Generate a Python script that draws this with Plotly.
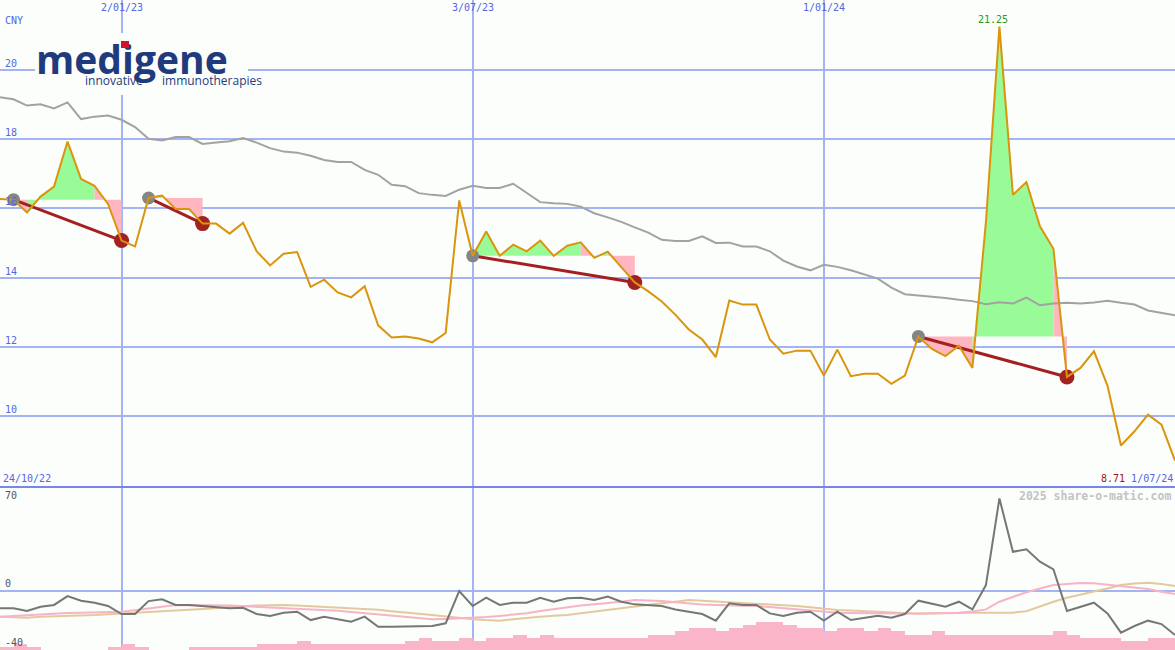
import pandas as pd
import plotly.graph_objects as go

# ---------------- data ----------------
start_date = "2022-10-31"
n_weeks = 88
dates = list(pd.date_range(start_date, periods=n_weeks, freq="7D"))

price = [
    16.27, 16.25, 15.88, 16.34, 16.63, 17.93, 16.85, 16.65, 16.13, 15.07,
    14.90, 16.30, 16.37, 15.98, 15.98, 15.56, 15.56, 15.27, 15.58, 14.76,
    14.35, 14.69, 14.74, 13.73, 13.94, 13.57, 13.43, 13.75, 12.62, 12.27,
    12.30, 12.24, 12.13, 12.40, 16.23, 14.63, 15.33, 14.63, 14.95, 14.76,
    15.07, 14.63, 14.92, 15.02, 14.57, 14.75, 14.30, 13.86, 13.60, 13.31,
    12.93, 12.50, 12.21, 11.70, 13.34, 13.22, 13.22, 12.21, 11.80, 11.89,
    11.89, 11.17, 11.92, 11.15, 11.22, 11.22, 10.93, 11.17, 12.30, 11.94,
    11.73, 12.03, 11.39, 15.60, 21.25, 16.39, 16.76, 15.48, 14.83, 11.13,
    11.39, 11.87, 10.88, 9.15, 9.56, 10.04, 9.75, 8.71]

moving_avg = [
    19.21, 19.15, 18.97, 19.01, 18.89, 19.06, 18.58, 18.65, 18.68, 18.56,
    18.35, 18.01, 17.96, 18.06, 18.06, 17.86, 17.90, 17.94, 18.03, 17.90,
    17.74, 17.64, 17.61, 17.52, 17.40, 17.34, 17.34, 17.11, 16.97, 16.68,
    16.64, 16.44, 16.39, 16.36, 16.54, 16.65, 16.59, 16.59, 16.71, 16.45,
    16.18, 16.15, 16.13, 16.05, 15.86, 15.74, 15.61, 15.45, 15.30, 15.09,
    15.06, 15.06, 15.19, 15.00, 15.01, 14.90, 14.90, 14.76, 14.49, 14.32,
    14.21, 14.37, 14.31, 14.21, 14.10, 13.97, 13.71, 13.52, 13.48, 13.45,
    13.41, 13.36, 13.32, 13.23, 13.29, 13.25, 13.42, 13.20, 13.25, 13.27,
    13.25, 13.28, 13.33, 13.27, 13.22, 13.05, 12.98, 12.91]

# trades: (entry week index, exit week index)
trade_start = [1, 11, 35, 68]
trade_end = [9, 15, 47, 79]

volume = [
    1, 2, 1, 0, 0, 0, 0, 0, 1, 2,
    1, 0, 0, 0, 1, 1, 1, 1, 1, 2,
    2, 2, 3, 2, 2, 2, 2, 2, 2, 2,
    3, 4, 3, 3, 4, 3, 4, 4, 5, 4,
    5, 4, 4, 4, 4, 4, 4, 4, 5, 5,
    6, 7, 7, 6, 7, 8, 9, 9, 8, 7,
    7, 6, 7, 7, 6, 7, 6, 5, 5, 6,
    5, 5, 5, 5, 5, 5, 5, 5, 6, 5,
    4, 4, 4, 3, 3, 4, 4, 4]

momentum = [
    -11.9, -11.9, -13.7, -10.8, -9.6, -3.6, -6.7, -8.1, -10.3, -15.7,
    -15.7, -7.0, -5.8, -9.6, -9.6, -10.3, -10.8, -11.9, -11.5, -15.7,
    -17.1, -14.8, -14.2, -19.8, -17.5, -19.3, -20.9, -17.5, -24.3, -24.3,
    -24.3, -24.0, -23.8, -22.0, -0.2, -10.3, -4.7, -9.6, -8.1, -8.1,
    -4.7, -7.4, -5.1, -4.7, -6.3, -4.0, -7.4, -9.2, -9.6, -10.3,
    -12.6, -14.2, -15.7, -20.2, -8.5, -9.6, -9.6, -15.3, -17.1, -14.8,
    -14.2, -20.2, -14.2, -19.8, -18.6, -16.9, -18.2, -15.7, -6.7, -9.0,
    -10.8, -7.4, -12.6, 3.8, 62.3, 26.3, 27.9, 19.6, 14.4, -13.7,
    -10.8, -8.1, -15.3, -28.3, -23.8, -20.2, -22.5, -29.9]

osc_pink = [
    -17.5, -17.0, -16.3, -15.7, -15.4, -15.1, -14.8, -14.6, -14.4, -14.2,
    -13.2, -11.8, -10.8, -9.6, -9.6, -9.6, -9.6, -10.0, -10.4, -10.8,
    -11.2, -11.6, -11.9, -12.4, -13.0, -13.5, -14.4, -15.3, -16.0, -16.7,
    -17.8, -18.6, -19.3, -19.0, -18.7, -18.3, -17.7, -17.0, -16.2, -15.2,
    -13.7, -12.3, -11.2, -10.0, -9.1, -8.5, -7.4, -6.3, -6.6, -7.0,
    -7.8, -8.8, -9.3, -9.6, -9.8, -10.0, -10.3, -11.0, -11.8, -12.6,
    -13.4, -14.0, -14.8, -15.0, -15.2, -15.3, -15.3, -15.3, -15.3, -15.3,
    -15.1, -14.9, -14.0, -12.6, -7.4, -4.0, -1.0, 1.5, 3.9, 4.6,
    5.2, 5.0, 4.0, 2.7, 2.0, 1.2, -0.7, -2.2]

osc_tan = [
    -17.5, -18.0, -18.2, -17.5, -17.3, -17.1, -16.9, -16.4, -15.8, -15.3,
    -14.9, -14.6, -14.2, -13.7, -13.1, -12.6, -11.8, -11.0, -10.3, -10.0,
    -9.8, -9.6, -10.0, -10.4, -10.8, -11.2, -11.6, -11.9, -12.8, -13.8,
    -14.5, -15.5, -16.4, -17.4, -18.6, -19.2, -19.8, -20.2, -19.2, -18.2,
    -17.5, -16.9, -16.4, -15.2, -14.0, -13.0, -11.9, -10.8, -9.6, -8.5,
    -7.4, -6.3, -6.8, -7.3, -7.8, -8.2, -8.5, -9.0, -9.6, -10.3,
    -11.2, -12.1, -13.0, -13.4, -13.8, -14.2, -14.8, -15.4, -15.6, -15.4,
    -15.1, -14.9, -14.8, -14.8, -14.8, -14.8, -13.8, -10.5, -7.4, -4.8,
    -2.4, -0.5, 1.5, 3.9, 4.8, 5.4, 4.5, 3.2]

grid_dates = ["2023-01-02", "2023-07-03", "2024-01-01"]
grid_date_labels = ["2/01/23", "3/07/23", "1/01/24"]
price_ticks = [10, 12, 14, 16, 18, 20]
osc_ticks = [70, 0, -40]
currency = "CNY"
first_label = "24/10/22"
last_label = "1/07/24"
watermark = "2025 share-o-matic.com"

# ---------------- styles ----------------
W, H = 1175, 650
BG = "#FBFEFB"
GRID = "#A3B3F3"
SEP = "#7686EC"
BLUE_TXT = "#5565E3"
ORANGE = "#DA950D"
MA_GREY = "#A2A2A2"
TRADE_RED = "#A41F22"
GREEN_FILL = "#98FB98"
PINK_FILL = "#FFB6C1"
MONO = "DejaVu Sans Mono"
NAVY = "#1F3B7D"

split = (H - 487) / H  # paper fraction of lower panel


def px(x):
    return x / W


def py(y):
    return 1 - y / H


fig = go.Figure()

# ---- trade fills (segment polygons between price and entry level) ----
gx, gy, rx, ry = [], [], [], []
for s, e in zip(trade_start, trade_end):
    entry = price[s]
    for i in range(s + 1, e + 1):
        xs = [dates[i - 1], dates[i], dates[i], dates[i - 1], dates[i - 1], None]
        ys = [price[i - 1], price[i], entry, entry, price[i - 1], None]
        if price[i] >= entry:
            gx += xs
            gy += ys
        else:
            rx += xs
            ry += ys

fig.add_trace(go.Scatter(x=gx, y=gy, mode="lines", fill="toself", fillcolor=GREEN_FILL,
                         line=dict(width=0, color=GREEN_FILL), xaxis="x", yaxis="y",
                         hoverinfo="skip"))
fig.add_trace(go.Scatter(x=rx, y=ry, mode="lines", fill="toself", fillcolor=PINK_FILL,
                         line=dict(width=0, color=PINK_FILL), xaxis="x", yaxis="y",
                         hoverinfo="skip"))

# ---- moving average ----
fig.add_trace(go.Scatter(x=dates, y=moving_avg, mode="lines",
                         line=dict(color=MA_GREY, width=2), xaxis="x", yaxis="y"))

# ---- trade lines ----
tx, ty = [], []
for s, e in zip(trade_start, trade_end):
    tx += [dates[s], dates[e], None]
    ty += [price[s], price[e], None]
fig.add_trace(go.Scatter(x=tx, y=ty, mode="lines", line=dict(color=TRADE_RED, width=3),
                         xaxis="x", yaxis="y"))
fig.add_trace(go.Scatter(x=[dates[s] for s in trade_start], y=[price[s] for s in trade_start],
                         mode="markers", marker=dict(color="#858585", size=13, line=dict(width=0)),
                         xaxis="x", yaxis="y"))
fig.add_trace(go.Scatter(x=[dates[e] for e in trade_end], y=[price[e] for e in trade_end],
                         mode="markers", marker=dict(color="#A32121", size=15, line=dict(width=0)),
                         xaxis="x", yaxis="y"))

# ---- price ----
fig.add_trace(go.Scatter(x=dates, y=price, mode="lines", line=dict(color=ORANGE, width=2),
                         xaxis="x", yaxis="y"))

# ---- lower panel ----
week_ms = 7 * 24 * 3600 * 1000
fig.add_trace(go.Bar(x=dates, y=volume, offset=0, width=week_ms,
                     marker=dict(color="#FAB5C9", line=dict(width=0)),
                     xaxis="x2", yaxis="y2"))
fig.add_trace(go.Scatter(x=dates, y=osc_tan, mode="lines", line=dict(color="#E3CA9C", width=2),
                         xaxis="x2", yaxis="y3"))
fig.add_trace(go.Scatter(x=dates, y=osc_pink, mode="lines", line=dict(color="#F8B3C7", width=2),
                         xaxis="x2", yaxis="y3"))
fig.add_trace(go.Scatter(x=dates, y=momentum, mode="lines", line=dict(color="#767676", width=2),
                         xaxis="x2", yaxis="y3"))

xr = [dates[0], dates[-1]]
axis_common = dict(showline=False, zeroline=False, ticks="", showticklabels=False)

fig.update_layout(
    width=W, height=H, margin=dict(l=0, r=0, t=0, b=0),
    paper_bgcolor=BG, plot_bgcolor=BG, showlegend=False, hovermode=False,
    xaxis=dict(domain=[0, 1], anchor="y", type="date", range=xr, tickvals=grid_dates,
               showgrid=True, gridcolor=GRID, gridwidth=1.5, **axis_common),
    yaxis=dict(domain=[split, 1], anchor="x", range=[7.95, 22.02], tickvals=price_ticks,
               showgrid=True, gridcolor=GRID, gridwidth=2, **axis_common),
    xaxis2=dict(domain=[0, 1], anchor="y2", type="date", range=xr, tickvals=grid_dates,
                showgrid=True, gridcolor=GRID, gridwidth=1.5, **axis_common),
    yaxis2=dict(domain=[0, split], anchor="x2", range=[0, 52.6], showgrid=False, **axis_common),
    yaxis3=dict(overlaying="y2", anchor="x2", range=[-40, 70], tickvals=[0],
                showgrid=True, gridcolor=GRID, gridwidth=2, **axis_common),
    bargap=0,
)

shapes = [
    dict(type="line", xref="paper", yref="paper", x0=0, x1=1, y0=split, y1=split,
         line=dict(color=SEP, width=2), layer="above"),
    # logo backdrop
    dict(type="rect", xref="paper", yref="paper", x0=px(35), x1=px(248), y0=py(95), y1=py(33),
         fillcolor=BG, line=dict(width=0), layer="above"),
]
fig.update_layout(shapes=shapes)

ann = []


def mono(size, color, **kw):
    return dict(family=MONO, size=size, color=color, **kw)


# date labels on top
for d, lab in zip(grid_dates, grid_date_labels):
    ann.append(dict(x=d, xref="x", y=1, yref="paper", yanchor="top", xanchor="center",
                    text=lab, showarrow=False, font=mono(10, BLUE_TXT), yshift=0))
# currency
ann.append(dict(x=px(3), xref="paper", y=py(20), yref="paper", xanchor="left", yanchor="middle",
                text=currency, showarrow=False, font=mono(10, BLUE_TXT)))
# price tick labels
for t in price_ticks:
    ann.append(dict(x=px(3), xref="paper", y=t, yref="y", xanchor="left", yanchor="bottom",
                    text=str(t), showarrow=False, font=mono(10, BLUE_TXT), yshift=-1))
# oscillator labels
for t in osc_ticks:
    ann.append(dict(x=px(3), xref="paper", y=t, yref="y3", xanchor="left",
                    yanchor="top" if t == max(osc_ticks) else "bottom",
                    text=str(t), showarrow=False, font=mono(10, "#555555"),
                    yshift=-1 if t == max(osc_ticks) else 0))
# first / last labels
ann.append(dict(x=px(1), xref="paper", y=split, yref="paper", xanchor="left", yanchor="bottom",
                text=first_label, showarrow=False, font=mono(10, BLUE_TXT), yshift=1))
ann.append(dict(x=1, xref="paper", y=split, yref="paper", xanchor="right", yanchor="bottom",
                text=f'<span style="color:#A01515">{price[-1]:.2f}</span> {last_label}',
                showarrow=False, font=mono(10, BLUE_TXT), yshift=1))
# maximum label
imax = max(range(n_weeks), key=lambda i: price[i])
ann.append(dict(x=dates[imax], xref="x", y=price[imax], yref="y", xanchor="center",
                yanchor="bottom", text=f"{price[imax]:.2f}", showarrow=False,
                font=mono(10, "#229922"), xshift=-6, yshift=0))
# watermark
ann.append(dict(x=px(1173), xref="paper", y=py(496), yref="paper", xanchor="right",
                yanchor="middle", text=watermark, showarrow=False,
                font=mono(11.5, "#C3C3C3", weight="bold")))
# logo
ann.append(dict(x=px(34), xref="paper", y=py(59), yref="paper", xanchor="left", yanchor="middle",
                text="medigene", showarrow=False,
                font=dict(family="Open Sans", size=39, color=NAVY, weight="bold")))
ann.append(dict(x=px(83), xref="paper", y=py(81), yref="paper", xanchor="left", yanchor="middle",
                text="innovative", showarrow=False,
                font=dict(family="Open Sans", size=12, color=NAVY)))
ann.append(dict(x=px(160), xref="paper", y=py(81), yref="paper", xanchor="left", yanchor="middle",
                text="immunotherapies", showarrow=False,
                font=dict(family="Open Sans", size=12, color=NAVY)))
fig.update_layout(annotations=ann)

fig.write_html("out.html", config={"displayModeBar": False},
               post_script=("document.body.style.margin='0';"
                            "document.body.style.overflow='hidden';"
                            "var gd=document.querySelector('.plotly-graph-div');"
                            "var ns='http://www.w3.org/2000/svg';"
                            "var svg=gd.querySelectorAll('svg.main-svg');"
                            "var top=svg[svg.length-1];"
                            "var r=document.createElementNS(ns,'rect');"
                            "r.setAttribute('x','121');r.setAttribute('y','41');"
                            "r.setAttribute('width','8');r.setAttribute('height','7');"
                            "r.setAttribute('fill','#D0142C');top.appendChild(r);"))
